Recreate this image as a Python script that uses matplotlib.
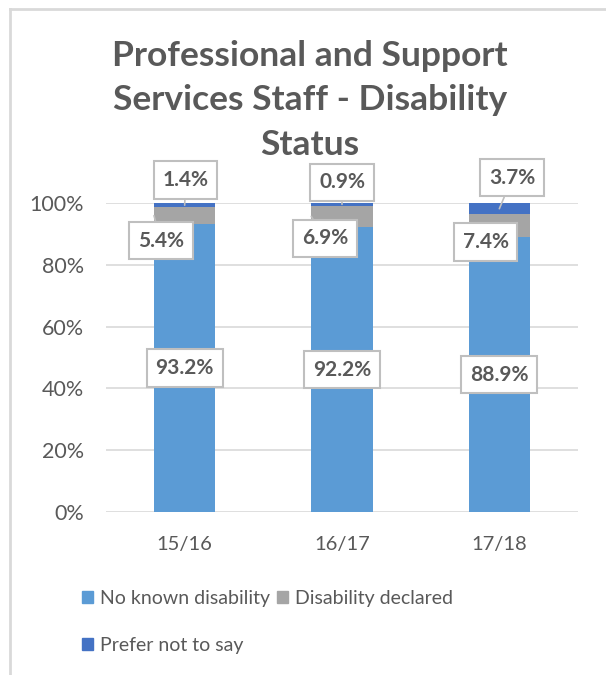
import matplotlib.pyplot as plt
from matplotlib.patches import Patch
from matplotlib.lines import Line2D

# values (percent of staff)
years = ['15/16', '16/17', '17/18']
no_known = [93.2, 92.2, 88.9]
declared = [5.4, 6.9, 7.4]
prefer_not = [1.4, 0.9, 3.7]
yticks = [0, 20, 40, 60, 80, 100]

c_blue = '#5B9BD5'
c_gray = '#A5A5A5'
c_dark = '#4472C4'
txt = '#595959'
grid = '#D9D9D9'

plt.rcParams['font.family'] = ['Lato', 'DejaVu Sans']

fig = plt.figure(figsize=(6.06, 6.75), dpi=100)
W, H = 606, 675
ax = fig.add_axes([106 / W, 1 - 512 / H, 472 / W, 309 / H])

x = list(range(len(years)))
bw = 0.39
bottom2 = [a for a in no_known]
bottom3 = [a + b for a, b in zip(no_known, declared)]
ax.bar(x, no_known, bw, color=c_blue, zorder=2)
ax.bar(x, declared, bw, bottom=bottom2, color=c_gray, zorder=2)
ax.bar(x, prefer_not, bw, bottom=bottom3, color=c_dark, zorder=2)

ax.set_xlim(-0.5, 2.5)
ax.set_ylim(0, 100)
ax.set_yticks(yticks)
ax.set_yticklabels([f'{v}%' for v in yticks])
ax.set_xticks(x)
ax.set_xticklabels(years)
ax.tick_params(length=0, labelcolor=txt)
ax.tick_params(axis='y', pad=16, labelsize=15.5)
ax.tick_params(axis='x', pad=17, labelsize=14.5)
for s in ax.spines.values():
    s.set_visible(False)
ax.yaxis.grid(True, color=grid, lw=1.2, zorder=0)
ax.set_axisbelow(True)

box = dict(boxstyle='square,pad=0.42', fc='white', ec='#BFBFBF', lw=1.5)
lbl = dict(fontsize=15, fontweight='bold', color=txt, ha='center', va='center', zorder=5)

# labels in the middle of the main segment
for i, v in enumerate(no_known):
    ax.text(i, v / 2, f'{v}%', bbox=box, **lbl)

# callouts for the small segments
dec_off = [(7, -25), (14, -22), (17, -16)]
pre_off = [(1, 25), (0, 22), (13, 31)]
for i in x:
    yc = bottom2[i] + declared[i] / 2
    ax.annotate(f'{declared[i]}%', xy=(i - bw / 2, yc), xytext=dec_off[i],
                textcoords='offset pixels', bbox=box,
                arrowprops=dict(arrowstyle='-', color='#BFBFBF', lw=1.2,
                                shrinkA=0, shrinkB=0), **lbl)
    yc = bottom3[i] + prefer_not[i] / 2
    ax.annotate(f'{prefer_not[i]}%', xy=(i, yc), xytext=pre_off[i],
                textcoords='offset pixels', bbox=box,
                arrowprops=dict(arrowstyle='-', color='#BFBFBF', lw=1.2,
                                shrinkA=0, shrinkB=0), **lbl)

fig.text(310 / W, 1 - 40 / H,
         'Professional and Support\nServices Staff - Disability\nStatus',
         ha='center', va='top', fontsize=25.5, fontweight='bold', color=txt,
         linespacing=1.48)

handles = [Patch(color=c_blue, label='No known disability'),
           Patch(color=c_dark, label='Prefer not to say'),
           Patch(color=c_gray, label='Disability declared')]
fig.legend(handles=handles, loc='upper left', bbox_to_anchor=(82 / W, 1 - 590 / H),
           ncol=2, frameon=False, fontsize=14, labelcolor=txt,
           handlelength=0.57, handleheight=0.57, handletextpad=0.36,
           columnspacing=0.36, labelspacing=1.55, borderpad=0, borderaxespad=0)

# chart area border (top and left edges visible in the crop)
fig.add_artist(Line2D([10 / W, 1], [1 - 9 / H, 1 - 9 / H], color=grid, lw=2))
fig.add_artist(Line2D([10 / W, 10 / W], [0, 1 - 9 / H], color=grid, lw=2))

fig.savefig('out.png', dpi=100)
